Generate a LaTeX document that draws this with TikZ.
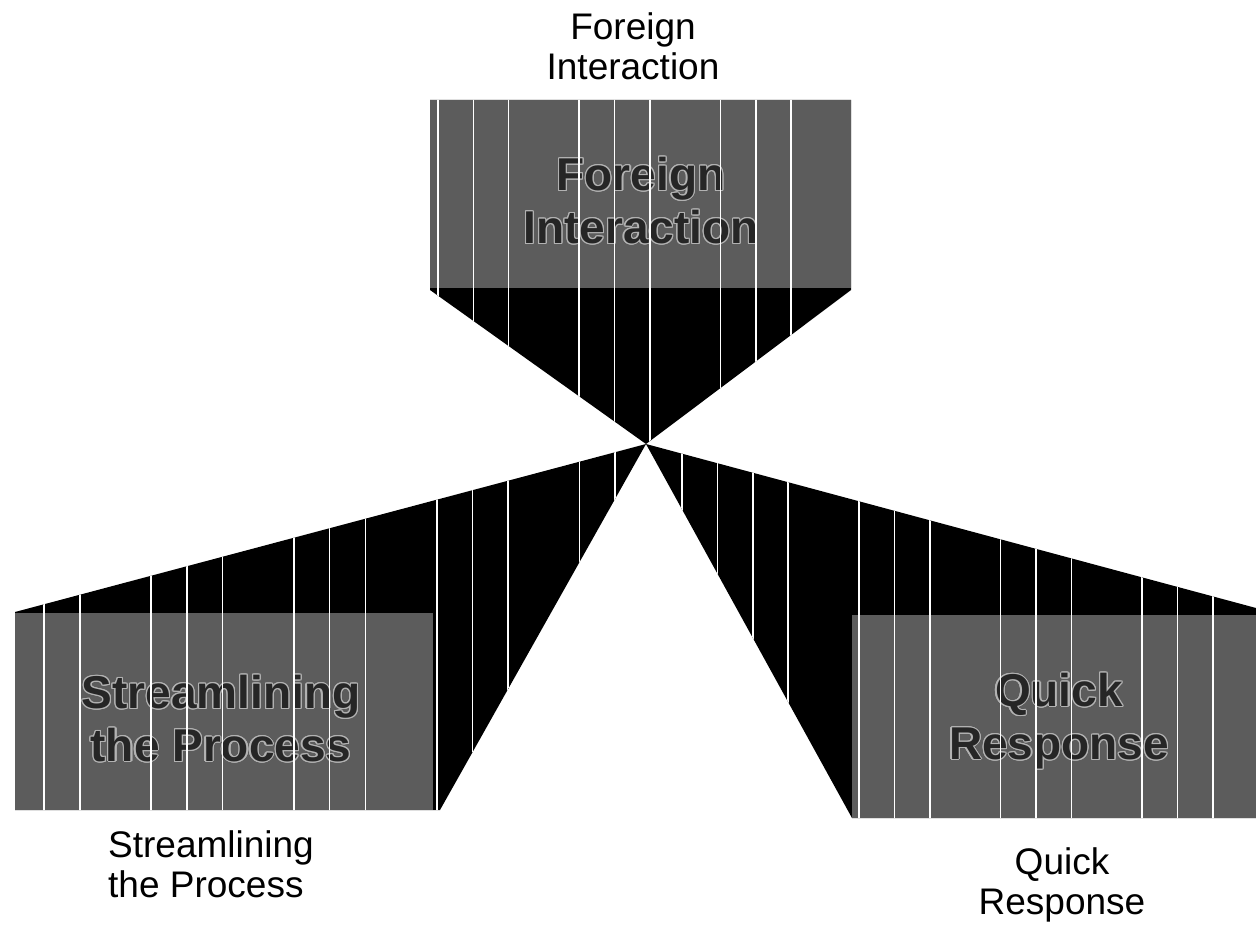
\documentclass[tikz,border=0pt]{standalone}
\usepackage{fontspec}
\setmainfont{Liberation Sans}
\usepackage{contour}
\contourlength{1.2pt}
\begin{document}
\begin{tikzpicture}[x=1pt,y=-1pt]
\tikzset{
  funnel/.style={fill=black},
  panel/.style={fill=black!64},
  stripe/.style={draw=white, line width=1.6pt},
  outlabel/.style={font=\fontsize{37}{40}\selectfont, inner sep=0pt, text=black},
  inlabel/.style={font=\bfseries\fontsize{46}{53}\selectfont, inner sep=0pt, text=black!85, align=center}
}
\useasboundingbox (0,0) rectangle (1256,925);
\coordinate (apex) at (646,444);

% top
\coordinate (t1) at (430,100);
\coordinate (t2) at (851,100);
\coordinate (t3) at (851,290);
\coordinate (t4) at (430,290);
\fill[funnel] (t1) -- (t2) -- (t3) -- (apex) -- (t4) -- cycle;
\fill[panel] (430,100) rectangle (851,288);
\node[inlabel, anchor=north] (fiin) at (641,157) {\contour{black!30}{Foreign}\\\contour{black!30}{Interaction}};
\begin{scope}
  \clip (t1) -- (t2) -- (t3) -- (apex) -- (t4) -- cycle;
  \foreach \k in {0,1,2,4,5,6,8,9,10} \draw[stripe] ({438+35.3*\k},90) -- ++(0,370);
\end{scope}

% left
\coordinate (l1) at (15,612);
\coordinate (l2) at (440,810);
\coordinate (l3) at (15,810);
\fill[funnel] (l1) -- (apex) -- (l2) -- (l3) -- cycle;
\fill[panel] (15,613) rectangle (433,810);
\node[inlabel, anchor=north] (spin) at (221,675) {\contour{black!30}{Streamlining}\\\contour{black!30}{the Process}};
\begin{scope}
  \clip (l1) -- (apex) -- (l2) -- (l3) -- cycle;
  \foreach \k in {0,1,3,4,5,7,8,9,11,12,13,15,16} \draw[stripe] ({44+35.7*\k},430) -- ++(0,400);
\end{scope}

% right
\coordinate (r1) at (1256,608);
\coordinate (r2) at (1256,818);
\coordinate (r3) at (852,818);
\fill[funnel] (apex) -- (r1) -- (r2) -- (r3) -- cycle;
\fill[panel] (852,615) rectangle (1256,818);
\node[inlabel, anchor=north] (qrin) at (1059,673) {\contour{black!30}{Quick}\\\contour{black!30}{Response}};
\begin{scope}
  \clip (apex) -- (r1) -- (r2) -- (r3) -- cycle;
  \foreach \k in {0,1,2,3,5,6,7,9,10,11,13,14,15} \draw[stripe] ({682+35.4*\k},430) -- ++(0,400);
\end{scope}

% outer labels
\node[outlabel, anchor=north, align=center] (fi) at (633,12) {Foreign\\Interaction};
\node[outlabel, anchor=north west, align=left] (sp) at (108,830) {Streamlining\\the Process};
\node[outlabel, anchor=north, align=center] (qr) at (1062,847) {Quick\\Response};
\end{tikzpicture}
\end{document}
